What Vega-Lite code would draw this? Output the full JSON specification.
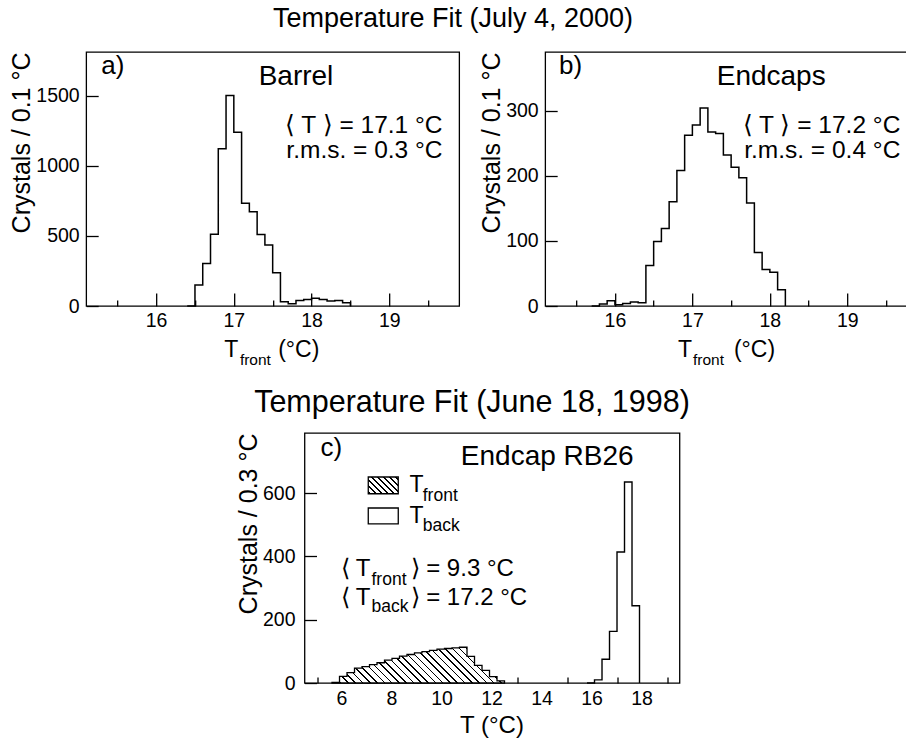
{
  "$schema": "https://vega.github.io/schema/vega-lite/v6.json",
  "background": "white",
  "padding": {"left": 9, "top": 5, "right": 0, "bottom": 0},
  "config": {
    "font": "Liberation Sans",
    "view": {"stroke": "black", "strokeWidth": 1.3},
    "axis": {
      "grid": false, "domain": false, "tickColor": "black", "tickWidth": 1.3,
      "labelColor": "black", "titleColor": "black", "labelFont": "Liberation Sans", "titleFont": "Liberation Sans",
      "labelFontSize": 19.5, "titleFontSize": 25, "titleFontWeight": "normal", "labelFlush": false, "labelOverlap": false
    },
    "title": {"font": "Liberation Sans", "fontWeight": "normal", "color": "black", "anchor": "middle", "frame": "bounds"},
    "text": {"font": "Liberation Sans", "color": "black", "baseline": "alphabetic"}
  },
  "datasets": {
    "barrel": [
      {"t": 16.4, "n": 0}, {"t": 16.5, "n": 149}, {"t": 16.6, "n": 303}, {"t": 16.7, "n": 512}, {"t": 16.8, "n": 1121},
      {"t": 16.9, "n": 1500}, {"t": 17.0, "n": 1239}, {"t": 17.1, "n": 732}, {"t": 17.2, "n": 671}, {"t": 17.3, "n": 509},
      {"t": 17.4, "n": 434}, {"t": 17.5, "n": 237}, {"t": 17.6, "n": 30}, {"t": 17.7, "n": 16}, {"t": 17.8, "n": 40},
      {"t": 17.9, "n": 47}, {"t": 18.0, "n": 55}, {"t": 18.1, "n": 47}, {"t": 18.2, "n": 36}, {"t": 18.3, "n": 40},
      {"t": 18.4, "n": 24}, {"t": 18.5, "n": 0}
    ],
    "endcaps": [
      {"t": 15.7, "n": 0}, {"t": 15.8, "n": 3}, {"t": 15.9, "n": 8}, {"t": 16.0, "n": 2}, {"t": 16.1, "n": 4},
      {"t": 16.2, "n": 6}, {"t": 16.3, "n": 5}, {"t": 16.4, "n": 62}, {"t": 16.5, "n": 99}, {"t": 16.6, "n": 119},
      {"t": 16.7, "n": 160}, {"t": 16.8, "n": 208}, {"t": 16.9, "n": 262}, {"t": 17.0, "n": 278}, {"t": 17.1, "n": 304},
      {"t": 17.2, "n": 267}, {"t": 17.3, "n": 265}, {"t": 17.4, "n": 232}, {"t": 17.5, "n": 213}, {"t": 17.6, "n": 197},
      {"t": 17.7, "n": 158}, {"t": 17.8, "n": 82}, {"t": 17.9, "n": 56}, {"t": 18.0, "n": 52}, {"t": 18.1, "n": 25},
      {"t": 18.2, "n": 0}
    ],
    "front": [
      {"t": 5.6, "n": 2}, {"t": 5.9, "n": 21}, {"t": 6.2, "n": 33}, {"t": 6.5, "n": 47}, {"t": 6.8, "n": 52},
      {"t": 7.1, "n": 58}, {"t": 7.4, "n": 64}, {"t": 7.7, "n": 72}, {"t": 8.0, "n": 78}, {"t": 8.3, "n": 85},
      {"t": 8.6, "n": 90}, {"t": 8.9, "n": 95}, {"t": 9.2, "n": 99}, {"t": 9.5, "n": 103}, {"t": 9.8, "n": 107},
      {"t": 10.1, "n": 109}, {"t": 10.4, "n": 111}, {"t": 10.7, "n": 113}, {"t": 11.0, "n": 84}, {"t": 11.3, "n": 56},
      {"t": 11.6, "n": 40}, {"t": 11.9, "n": 20}, {"t": 12.2, "n": 7}, {"t": 12.5, "n": 0}
    ],
    "back": [
      {"t": 15.8, "n": 0}, {"t": 16.1, "n": 10}, {"t": 16.4, "n": 75}, {"t": 16.7, "n": 163}, {"t": 17.0, "n": 414},
      {"t": 17.3, "n": 635}, {"t": 17.6, "n": 244}, {"t": 17.9, "n": 0}
    ]
  },
  "vconcat": [
    {
      "title": {"text": "Temperature Fit (July 4, 2000)", "fontSize": 27, "offset": 18, "dx": -6},
      "spacing": 18,
      "hconcat": [
        {
          "width": 373, "height": 254,
          "layer": [
            {
              "data": {"name": "barrel"},
              "mark": {"type": "line", "interpolate": "step-after", "color": "black", "strokeWidth": 1.5, "strokeJoin": "miter"},
              "encoding": {
                "x": {"field": "t", "type": "quantitative",
                  "scale": {"domain": [15.1, 19.9], "nice": false, "zero": false},
                  "axis": {"title": null, "values": [15.5, 16, 16.5, 17, 17.5, 18, 18.5, 19, 19.5], "format": ".0f",
                    "labelOverlap": false,
                    "labelExpr": "datum.value % 1 === 0 ? datum.label : ''",
                    "tickSize": {"condition": {"test": "datum.value % 1 === 0", "value": -13}, "value": -6},
                    "labelPadding": 18}},
                "y": {"field": "n", "type": "quantitative",
                  "scale": {"domain": [0, 1810], "nice": false},
                  "axis": {"title": "Crystals / 0.1 °C", "values": [0, 500, 1000, 1500], "format": "d", "labelOverlap": false,
                    "tickSize": -12, "labelPadding": 19, "titleAnchor": "end", "titlePadding": 1}}
              }
            },
            {
              "data": {"values": [{"t": 15.293, "n": 1655, "s": "a)"}]},
              "mark": {"type": "text", "align": "left", "fontSize": 26},
              "encoding": {"x": {"field": "t", "type": "quantitative"}, "y": {"field": "n", "type": "quantitative"}, "text": {"field": "s"}}
            },
            {
              "data": {"values": [{"t": 17.8, "n": 1573, "s": "Barrel"}]},
              "mark": {"type": "text", "align": "center", "fontSize": 28},
              "encoding": {"x": {"field": "t", "type": "quantitative"}, "y": {"field": "n", "type": "quantitative"}, "text": {"field": "s"}}
            },
            {
              "data": {"values": [{"t": 19.686, "n": 1232, "s": "⟨ T ⟩ = 17.1 °C"}, {"t": 19.686, "n": 1058, "s": "r.m.s. = 0.3 °C"}]},
              "mark": {"type": "text", "align": "right", "fontSize": 24.5},
              "encoding": {"x": {"field": "t", "type": "quantitative"}, "y": {"field": "n", "type": "quantitative"}, "text": {"field": "s"}}
            },
            {
              "data": {"values": [{"t": 16.876, "n": -363, "s": "T"}, {"t": 17.571, "n": -363, "s": "(°C)"}]},
              "mark": {"type": "text", "align": "left", "fontSize": 23},
              "encoding": {"x": {"field": "t", "type": "quantitative"}, "y": {"field": "n", "type": "quantitative"}, "text": {"field": "s"}}
            },
            {
              "data": {"values": [{"t": 17.078, "n": -422, "s": "front"}]},
              "mark": {"type": "text", "align": "left", "fontSize": 15.5},
              "encoding": {"x": {"field": "t", "type": "quantitative"}, "y": {"field": "n", "type": "quantitative"}, "text": {"field": "s"}}
            }
          ]
        },
        {
          "width": 363, "height": 254,
          "layer": [
            {
              "data": {"name": "endcaps"},
              "mark": {"type": "line", "interpolate": "step-after", "color": "black", "strokeWidth": 1.5, "strokeJoin": "miter"},
              "encoding": {
                "x": {"field": "t", "type": "quantitative",
                  "scale": {"domain": [15.1, 19.785], "nice": false, "zero": false},
                  "axis": {"title": null, "values": [15.5, 16, 16.5, 17, 17.5, 18, 18.5, 19, 19.5], "format": ".0f",
                    "labelOverlap": false,
                    "labelExpr": "datum.value % 1 === 0 ? datum.label : ''",
                    "tickSize": {"condition": {"test": "datum.value % 1 === 0", "value": -13}, "value": -6},
                    "labelPadding": 18}},
                "y": {"field": "n", "type": "quantitative",
                  "scale": {"domain": [0, 390], "nice": false},
                  "axis": {"title": "Crystals / 0.1 °C", "values": [0, 100, 200, 300], "format": "d", "labelOverlap": false,
                    "tickSize": -12, "labelPadding": 19, "titleAnchor": "end", "titlePadding": 1}}
              }
            },
            {
              "data": {"values": [{"t": 15.28, "n": 356.7, "s": "b)"}]},
              "mark": {"type": "text", "align": "left", "fontSize": 26},
              "encoding": {"x": {"field": "t", "type": "quantitative"}, "y": {"field": "n", "type": "quantitative"}, "text": {"field": "s"}}
            },
            {
              "data": {"values": [{"t": 18.017, "n": 339, "s": "Endcaps"}]},
              "mark": {"type": "text", "align": "center", "fontSize": 28},
              "encoding": {"x": {"field": "t", "type": "quantitative"}, "y": {"field": "n", "type": "quantitative"}, "text": {"field": "s"}}
            },
            {
              "data": {"values": [{"t": 19.684, "n": 265.5, "s": "⟨ T ⟩ = 17.2 °C"}, {"t": 19.684, "n": 227.9, "s": "r.m.s. = 0.4 °C"}]},
              "mark": {"type": "text", "align": "right", "fontSize": 24.5},
              "encoding": {"x": {"field": "t", "type": "quantitative"}, "y": {"field": "n", "type": "quantitative"}, "text": {"field": "s"}}
            },
            {
              "data": {"values": [{"t": 16.815, "n": -78.3, "s": "T"}, {"t": 17.536, "n": -78.3, "s": "(°C)"}]},
              "mark": {"type": "text", "align": "left", "fontSize": 23},
              "encoding": {"x": {"field": "t", "type": "quantitative"}, "y": {"field": "n", "type": "quantitative"}, "text": {"field": "s"}}
            },
            {
              "data": {"values": [{"t": 17.008, "n": -91.2, "s": "front"}]},
              "mark": {"type": "text", "align": "left", "fontSize": 15.5},
              "encoding": {"x": {"field": "t", "type": "quantitative"}, "y": {"field": "n", "type": "quantitative"}, "text": {"field": "s"}}
            }
          ]
        }
      ]
    },
    {
      "title": {"text": "Temperature Fit (June 18, 1998)", "fontSize": 30.5, "offset": 15, "dx": 14},
      "width": 375, "height": 250,
      "layer": [
        {
          "data": {"name": "back"},
          "mark": {"type": "line", "interpolate": "step-after", "color": "black", "strokeWidth": 1.4, "strokeJoin": "miter"},
          "encoding": {
            "x": {"field": "t", "type": "quantitative",
              "scale": {"domain": [4.5, 19.5], "nice": false, "zero": false},
              "axis": {"title": null, "labels": false, "values": [5, 6, 7, 8, 9, 10, 11, 12, 13, 14, 15, 16, 17, 18, 19],
                "tickSize": {"condition": {"test": "datum.value % 2 === 0", "value": -13}, "value": -6}}},
            "y": {"field": "n", "type": "quantitative",
              "scale": {"domain": [0, 790], "nice": false},
              "axis": {"title": "Crystals / 0.3 °C", "values": [0, 200, 400, 600], "format": "d", "labelOverlap": false,
                "tickSize": -12, "labelPadding": 21.5, "titleAnchor": "end", "titlePadding": 1}}
          }
        },
        {
          "data": {"name": "front"},
          "mark": {"type": "area", "interpolate": "step-after", "stroke": "black", "strokeWidth": 1.3, "strokeJoin": "miter",
            "fill": {"gradient": "linear", "x1": 0, "y1": 1, "x2": 1.1576, "y2": 0.76, "stops": [
              {"offset": 0, "color": "white"},
              {"offset": 0.005, "color": "white"}, {"offset": 0.005, "color": "black"}, {"offset": 0.0125, "color": "black"}, {"offset": 0.0125, "color": "white"},
              {"offset": 0.04, "color": "white"}, {"offset": 0.04, "color": "black"}, {"offset": 0.0475, "color": "black"}, {"offset": 0.0475, "color": "white"},
              {"offset": 0.075, "color": "white"}, {"offset": 0.075, "color": "black"}, {"offset": 0.0825, "color": "black"}, {"offset": 0.0825, "color": "white"},
              {"offset": 0.11, "color": "white"}, {"offset": 0.11, "color": "black"}, {"offset": 0.1175, "color": "black"}, {"offset": 0.1175, "color": "white"},
              {"offset": 0.145, "color": "white"}, {"offset": 0.145, "color": "black"}, {"offset": 0.1525, "color": "black"}, {"offset": 0.1525, "color": "white"},
              {"offset": 0.18, "color": "white"}, {"offset": 0.18, "color": "black"}, {"offset": 0.1875, "color": "black"}, {"offset": 0.1875, "color": "white"},
              {"offset": 0.215, "color": "white"}, {"offset": 0.215, "color": "black"}, {"offset": 0.2225, "color": "black"}, {"offset": 0.2225, "color": "white"},
              {"offset": 0.25, "color": "white"}, {"offset": 0.25, "color": "black"}, {"offset": 0.2575, "color": "black"}, {"offset": 0.2575, "color": "white"},
              {"offset": 0.285, "color": "white"}, {"offset": 0.285, "color": "black"}, {"offset": 0.2925, "color": "black"}, {"offset": 0.2925, "color": "white"},
              {"offset": 0.32, "color": "white"}, {"offset": 0.32, "color": "black"}, {"offset": 0.3275, "color": "black"}, {"offset": 0.3275, "color": "white"},
              {"offset": 0.355, "color": "white"}, {"offset": 0.355, "color": "black"}, {"offset": 0.3625, "color": "black"}, {"offset": 0.3625, "color": "white"},
              {"offset": 0.39, "color": "white"}, {"offset": 0.39, "color": "black"}, {"offset": 0.3975, "color": "black"}, {"offset": 0.3975, "color": "white"},
              {"offset": 0.425, "color": "white"}, {"offset": 0.425, "color": "black"}, {"offset": 0.4325, "color": "black"}, {"offset": 0.4325, "color": "white"},
              {"offset": 0.46, "color": "white"}, {"offset": 0.46, "color": "black"}, {"offset": 0.4675, "color": "black"}, {"offset": 0.4675, "color": "white"},
              {"offset": 0.495, "color": "white"}, {"offset": 0.495, "color": "black"}, {"offset": 0.5025, "color": "black"}, {"offset": 0.5025, "color": "white"},
              {"offset": 0.53, "color": "white"}, {"offset": 0.53, "color": "black"}, {"offset": 0.5375, "color": "black"}, {"offset": 0.5375, "color": "white"},
              {"offset": 0.565, "color": "white"}, {"offset": 0.565, "color": "black"}, {"offset": 0.5725, "color": "black"}, {"offset": 0.5725, "color": "white"},
              {"offset": 0.6, "color": "white"}, {"offset": 0.6, "color": "black"}, {"offset": 0.6075, "color": "black"}, {"offset": 0.6075, "color": "white"},
              {"offset": 0.635, "color": "white"}, {"offset": 0.635, "color": "black"}, {"offset": 0.6425, "color": "black"}, {"offset": 0.6425, "color": "white"},
              {"offset": 0.67, "color": "white"}, {"offset": 0.67, "color": "black"}, {"offset": 0.6775, "color": "black"}, {"offset": 0.6775, "color": "white"},
              {"offset": 0.705, "color": "white"}, {"offset": 0.705, "color": "black"}, {"offset": 0.7125, "color": "black"}, {"offset": 0.7125, "color": "white"},
              {"offset": 0.74, "color": "white"}, {"offset": 0.74, "color": "black"}, {"offset": 0.7475, "color": "black"}, {"offset": 0.7475, "color": "white"},
              {"offset": 0.775, "color": "white"}, {"offset": 0.775, "color": "black"}, {"offset": 0.7825, "color": "black"}, {"offset": 0.7825, "color": "white"},
              {"offset": 0.81, "color": "white"}, {"offset": 0.81, "color": "black"}, {"offset": 0.8175, "color": "black"}, {"offset": 0.8175, "color": "white"},
              {"offset": 0.845, "color": "white"}, {"offset": 0.845, "color": "black"}, {"offset": 0.8525, "color": "black"}, {"offset": 0.8525, "color": "white"},
              {"offset": 0.88, "color": "white"}, {"offset": 0.88, "color": "black"}, {"offset": 0.8875, "color": "black"}, {"offset": 0.8875, "color": "white"},
              {"offset": 0.915, "color": "white"}, {"offset": 0.915, "color": "black"}, {"offset": 0.9225, "color": "black"}, {"offset": 0.9225, "color": "white"},
              {"offset": 0.95, "color": "white"}, {"offset": 0.95, "color": "black"}, {"offset": 0.9575, "color": "black"}, {"offset": 0.9575, "color": "white"},
              {"offset": 0.985, "color": "white"}, {"offset": 0.985, "color": "black"}, {"offset": 0.9925, "color": "black"}, {"offset": 0.9925, "color": "white"},
              {"offset": 1, "color": "white"}
            ]}},
          "encoding": {"x": {"field": "t", "type": "quantitative"}, "y": {"field": "n", "type": "quantitative", "stack": null}}
        },
        {
          "data": {"values": [{"t": 7.05, "t2": 8.25, "n": 598, "n2": 651}]},
          "mark": {"type": "rect", "stroke": "black", "strokeWidth": 1.3,
            "fill": {"gradient": "linear", "x1": 0, "y1": 1, "x2": 1.1876, "y2": 0.335, "stops": [
              {"offset": 0, "color": "white"},
              {"offset": 0.03, "color": "white"}, {"offset": 0.03, "color": "black"}, {"offset": 0.063, "color": "black"}, {"offset": 0.063, "color": "white"},
              {"offset": 0.158, "color": "white"}, {"offset": 0.158, "color": "black"}, {"offset": 0.191, "color": "black"}, {"offset": 0.191, "color": "white"},
              {"offset": 0.286, "color": "white"}, {"offset": 0.286, "color": "black"}, {"offset": 0.319, "color": "black"}, {"offset": 0.319, "color": "white"},
              {"offset": 0.414, "color": "white"}, {"offset": 0.414, "color": "black"}, {"offset": 0.447, "color": "black"}, {"offset": 0.447, "color": "white"},
              {"offset": 0.542, "color": "white"}, {"offset": 0.542, "color": "black"}, {"offset": 0.575, "color": "black"}, {"offset": 0.575, "color": "white"},
              {"offset": 0.67, "color": "white"}, {"offset": 0.67, "color": "black"}, {"offset": 0.703, "color": "black"}, {"offset": 0.703, "color": "white"},
              {"offset": 0.798, "color": "white"}, {"offset": 0.798, "color": "black"}, {"offset": 0.831, "color": "black"}, {"offset": 0.831, "color": "white"},
              {"offset": 0.926, "color": "white"}, {"offset": 0.926, "color": "black"}, {"offset": 0.959, "color": "black"}, {"offset": 0.959, "color": "white"},
              {"offset": 1, "color": "white"}
            ]}},
          "encoding": {"x": {"field": "t", "type": "quantitative"}, "x2": {"field": "t2"}, "y": {"field": "n", "type": "quantitative"}, "y2": {"field": "n2"}}
        },
        {
          "data": {"values": [{"t": 7.05, "t2": 8.25, "n": 503, "n2": 553}]},
          "mark": {"type": "rect", "stroke": "black", "strokeWidth": 1.3, "fill": "white"},
          "encoding": {"x": {"field": "t", "type": "quantitative"}, "x2": {"field": "t2"}, "y": {"field": "n", "type": "quantitative"}, "y2": {"field": "n2"}}
        },
        {
          "data": {"values": [
            {"t": 6, "n": -70.8, "s": "6"}, {"t": 8, "n": -70.8, "s": "8"}, {"t": 10, "n": -70.8, "s": "10"}, {"t": 12, "n": -70.8, "s": "12"},
            {"t": 14, "n": -70.8, "s": "14"}, {"t": 16, "n": -70.8, "s": "16"}, {"t": 18, "n": -70.8, "s": "18"}
          ]},
          "mark": {"type": "text", "align": "center", "fontSize": 19.5},
          "encoding": {"x": {"field": "t", "type": "quantitative"}, "y": {"field": "n", "type": "quantitative"}, "text": {"field": "s"}}
        },
        {
          "data": {"values": [{"t": 5.14, "n": 716, "s": "c)"}]},
          "mark": {"type": "text", "align": "left", "fontSize": 26},
          "encoding": {"x": {"field": "t", "type": "quantitative"}, "y": {"field": "n", "type": "quantitative"}, "text": {"field": "s"}}
        },
        {
          "data": {"values": [{"t": 14.21, "n": 690, "s": "Endcap RB26"}]},
          "mark": {"type": "text", "align": "center", "fontSize": 28},
          "encoding": {"x": {"field": "t", "type": "quantitative"}, "y": {"field": "n", "type": "quantitative"}, "text": {"field": "s"}}
        },
        {
          "data": {"values": [{"t": 12, "n": -157, "s": "T (°C)"}]},
          "mark": {"type": "text", "align": "center", "fontSize": 24},
          "encoding": {"x": {"field": "t", "type": "quantitative"}, "y": {"field": "n", "type": "quantitative"}, "text": {"field": "s"}}
        },
        {
          "data": {"values": [{"t": 8.7, "n": 602, "s": "T"}, {"t": 8.7, "n": 505.5, "s": "T"}]},
          "mark": {"type": "text", "align": "left", "fontSize": 23},
          "encoding": {"x": {"field": "t", "type": "quantitative"}, "y": {"field": "n", "type": "quantitative"}, "text": {"field": "s"}}
        },
        {
          "data": {"values": [
            {"t": 9.23, "n": 574, "s": "front"}, {"t": 9.23, "n": 479, "s": "back"},
            {"t": 7.18, "n": 310.6, "s": "front"}, {"t": 7.18, "n": 223, "s": "back"}
          ]},
          "mark": {"type": "text", "align": "left", "fontSize": 17.5},
          "encoding": {"x": {"field": "t", "type": "quantitative"}, "y": {"field": "n", "type": "quantitative"}, "text": {"field": "s"}}
        },
        {
          "data": {"values": [
            {"t": 5.94, "n": 337, "s": "⟨ T"}, {"t": 8.74, "n": 337, "s": "⟩ = 9.3 °C"},
            {"t": 5.94, "n": 247.4, "s": "⟨ T"}, {"t": 8.74, "n": 247.4, "s": "⟩ = 17.2 °C"}
          ]},
          "mark": {"type": "text", "align": "left", "fontSize": 24},
          "encoding": {"x": {"field": "t", "type": "quantitative"}, "y": {"field": "n", "type": "quantitative"}, "text": {"field": "s"}}
        }
      ]
    }
  ],
  "spacing": 16,
  "center": true
}
